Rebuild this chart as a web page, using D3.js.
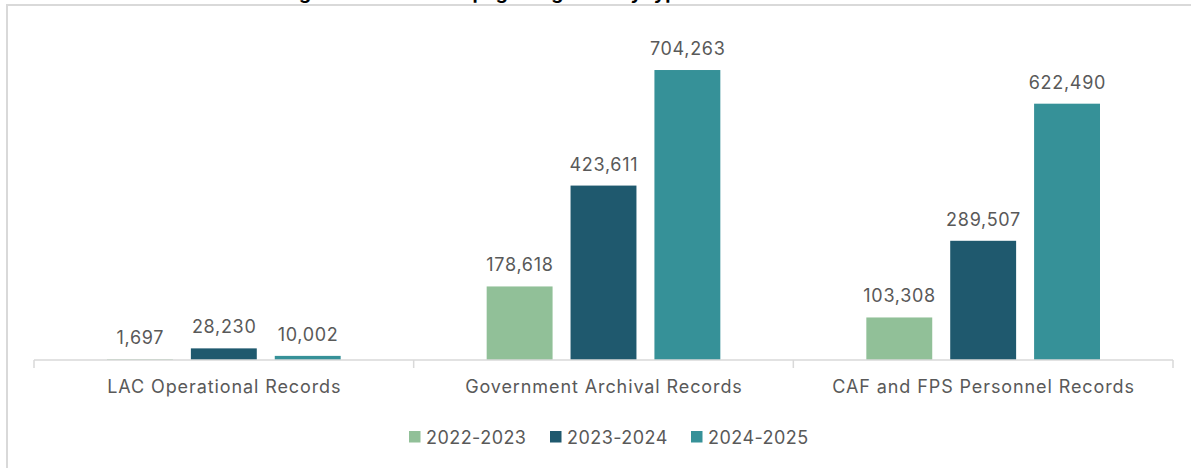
<!DOCTYPE html>
<html>
<head>
<meta charset="utf-8">
<script src="https://cdn.jsdelivr.net/npm/d3@7"></script>
<style>
  html, body { margin: 0; padding: 0; background: #ffffff; }
  svg { display: block; }
  text { font-family: Inter, "Open Sans", "Liberation Sans", sans-serif; }
</style>
</head>
<body>
<svg id="chart" width="1191" height="468"></svg>
<script>
const title = "Figure 4: Number of pages digitized by type of record";
const categories = ["LAC Operational Records", "Government Archival Records", "CAF and FPS Personnel Records"];
const seriesNames = ["2022-2023", "2023-2024", "2024-2025"];
const values2022 = [1697, 178618, 103308];
const values2023 = [28230, 423611, 289507];
const values2024 = [10002, 704263, 622490];
const seriesColors = ["#91c098", "#1f596e", "#369198"];
const yMax = 800000;

const seriesValues = [values2022, values2023, values2024];
const data = categories.map((c, i) => ({
  category: c,
  values: seriesNames.map((s, j) => ({ series: s, value: seriesValues[j][i], color: seriesColors[j] }))
}));

const svg = d3.select("#chart");
const W = 1191, H = 468;
const left = 34, right = 1173, baseY = 360, topY = 30.6;

// frame
svg.append("line").attr("x1", 6).attr("x2", W).attr("y1", 5).attr("y2", 5)
  .attr("stroke", "#d9d9d9").attr("stroke-width", 2);
svg.append("line").attr("x1", 7).attr("x2", 7).attr("y1", 4).attr("y2", H)
  .attr("stroke", "#d9d9d9").attr("stroke-width", 2);

// clipped title (only descenders visible, as in the reference)
svg.append("text").attr("x", 530).attr("y", -1.5).attr("text-anchor", "middle")
  .attr("font-size", 19).attr("font-weight", 700).attr("fill", "#000")
  .text(title);

const x0 = d3.scaleBand().domain(categories).range([left, right]).paddingInner(0).paddingOuter(0);
const x1 = d3.scaleBand().domain(seriesNames).range([73, x0.bandwidth() - 73]).paddingInner(18 / 84).paddingOuter(0);
const y = d3.scaleLinear().domain([0, yMax]).range([baseY, topY]);

const groups = svg.selectAll("g.cat").data(data).enter().append("g")
  .attr("class", "cat").attr("transform", d => `translate(${x0(d.category)},0)`);

groups.selectAll("rect").data(d => d.values).enter().append("rect")
  .attr("x", d => x1(d.series))
  .attr("width", x1.bandwidth())
  .attr("y", d => y(d.value))
  .attr("height", d => baseY - y(d.value))
  .attr("fill", d => d.color);

groups.selectAll("text.val").data(d => d.values).enter().append("text")
  .attr("class", "val")
  .attr("x", d => x1(d.series) + x1.bandwidth() / 2 + 0.35)
  .attr("y", d => y(d.value) - 15)
  .attr("text-anchor", "middle")
  .attr("font-size", 18)
  .attr("letter-spacing", 0.7)
  .attr("fill", "#595959")
  .text(d => d3.format(",")(d.value));

// axis
const axisG = svg.append("g");
axisG.append("line").attr("x1", left).attr("x2", right).attr("y1", baseY).attr("y2", baseY)
  .attr("stroke", "#d9d9d9").attr("stroke-width", 1.5);
const bounds = categories.map(c => x0(c)).concat([right]);
axisG.selectAll("line.tick").data(bounds).enter().append("line")
  .attr("class", "tick")
  .attr("x1", d => d).attr("x2", d => d)
  .attr("y1", baseY).attr("y2", baseY + 8)
  .attr("stroke", "#d9d9d9").attr("stroke-width", 1.5);
axisG.selectAll("text.cat").data(categories).enter().append("text")
  .attr("class", "cat")
  .attr("x", d => x0(d) + x0.bandwidth() / 2 + 0.45)
  .attr("y", 393)
  .attr("text-anchor", "middle")
  .attr("font-size", 18)
  .attr("letter-spacing", 0.9)
  .attr("fill", "#595959")
  .text(d => d);

// legend
const legendX = [409, 550, 691];
const leg = svg.selectAll("g.leg").data(seriesNames).enter().append("g")
  .attr("class", "leg").attr("transform", (d, i) => `translate(${legendX[i]},0)`);
leg.append("rect").attr("x", 0).attr("y", 431).attr("width", 11.5).attr("height", 11.5)
  .attr("fill", (d, i) => seriesColors[i]);
leg.append("text").attr("x", 17).attr("y", 443.5).attr("font-size", 18)
  .attr("letter-spacing", 0.45)
  .attr("fill", "#595959").text(d => d);
</script>
</body>
</html>
